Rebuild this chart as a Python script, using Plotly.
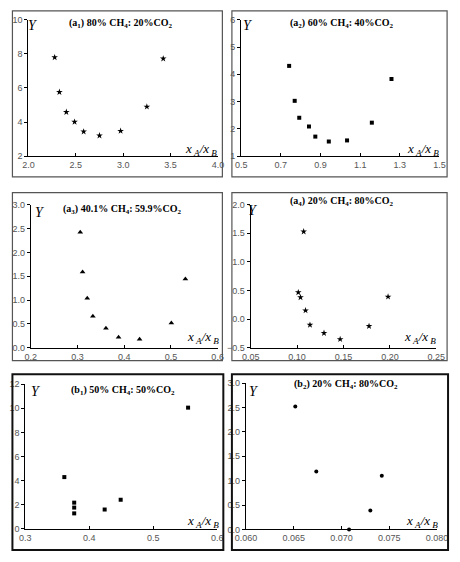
import plotly.graph_objects as go

W, H = 460, 562

# ---- data ----
a1_x = [2.277, 2.327, 2.40, 2.487, 2.583, 2.75, 2.973, 3.25, 3.423]
a1_y = [7.79, 5.76, 4.59, 4.01, 3.44, 3.21, 3.48, 4.90, 7.72]
a2_x = [0.742, 0.770, 0.793, 0.842, 0.874, 0.942, 1.034, 1.159, 1.258]
a2_y = [4.31, 3.03, 2.41, 2.09, 1.72, 1.54, 1.58, 2.23, 3.83]
a3_x = [0.306, 0.311, 0.321, 0.333, 0.361, 0.388, 0.433, 0.501, 0.531]
a3_y = [2.42, 1.59, 1.04, 0.66, 0.41, 0.22, 0.18, 0.52, 1.44]
a4_x = [0.1013, 0.1037, 0.1071, 0.1091, 0.1139, 0.129, 0.1464, 0.1775, 0.198]
a4_y = [0.467, 0.38, 1.53, 0.152, -0.10, -0.243, -0.351, -0.122, 0.392]
b1_x = [0.361, 0.3764, 0.3764, 0.3764, 0.424, 0.449, 0.5543]
b1_y = [4.29, 2.17, 1.76, 1.28, 1.60, 2.41, 10.05]
b2_x = [0.06517, 0.06737, 0.0708, 0.07303, 0.07423]
b2_y = [2.52, 1.19, 0.0, 0.39, 1.10]

titles = ["(a<sub>1</sub>) 80% CH<sub>4</sub>: 20%CO<sub>2</sub>",
          "(a<sub>2</sub>) 60% CH<sub>4</sub>: 40%CO<sub>2</sub>",
          "(a<sub>3</sub>) 40.1% CH<sub>4</sub>: 59.9%CO<sub>2</sub>",
          "(a<sub>4</sub>) 20% CH<sub>4</sub>: 80%CO<sub>2</sub>",
          "(b<sub>1</sub>) 50% CH<sub>4</sub>: 50%CO<sub>2</sub>",
          "(b<sub>2</sub>) 20% CH<sub>4</sub>: 80%CO<sub>2</sub>"]

# panel pixel geometry: plot box (x0,x1,ytop,ybot), frame (l,t,r,b)
panels = [
    dict(x=a1_x, y=a1_y, sym="star", size=5, xr=[2.0, 4.0], xd=0.5, xf=".1f",
         yr=[2, 10], yd=2, yf="d", box=(18.3, 217.3, 15, 154), frame=(1.5, 6, 222, 175),
         title=(115, 19), ylab=(23, 21), xlab=(200, 147), fw=1.2, fc="#555"),
    dict(x=a2_x, y=a2_y, sym="square", size=4, xr=[0.5, 1.5], xd=0.2, xf=".1f",
         yr=[1, 6], yd=1, yf="d", box=(241.7, 450, 15, 154), frame=(232, 6, 458, 175),
         title=(348, 19), ylab=(249, 21), xlab=(433, 147), fw=1.2, fc="#555"),
    dict(x=a3_x, y=a3_y, sym="triangle-up", size=5, xr=[0.2, 0.6], xd=0.1, xf=".1f",
         yr=[0, 3], yd=0.5, yf=".1f", box=(20.7, 217, 203.3, 349), frame=(1.5, 191, 222, 362),
         title=(117, 208), ylab=(30, 211), xlab=(202, 339), fw=1.2, fc="#555"),
    dict(x=a4_x, y=a4_y, sym="star", size=5, xr=[0.05, 0.25], xd=0.05, xf=".2f",
         yr=[-0.5, 2.0], yd=0.5, yf=".1f", box=(251.7, 446.7, 203.3, 349), frame=(232, 191, 458, 362),
         title=(348, 200), ylab=(254, 209), xlab=(430, 339), fw=1.2, fc="#555"),
    dict(x=b1_x, y=b1_y, sym="square", size=4, xr=[0.3, 0.6], xd=0.1, xf=".1f",
         yr=[0, 12], yd=2, yf="d", box=(15, 216.7, 386, 533.3), frame=(1.5, 376, 223, 555),
         title=(118, 392), ylab=(26, 394), xlab=(202, 526), fw=2, fc="#111"),
    dict(x=b2_x, y=b2_y, sym="circle", size=4, xr=[0.060, 0.080], xd=0.005, xf=".3f",
         yr=[0, 3.0], yd=0.5, yf=".1f", box=(246.7, 447.3, 385, 534), frame=(232, 376, 459, 555),
         title=(352, 386), ylab=(255, 394), xlab=(432, 526), fw=2, fc="#111"),
]

def px(v):
    return v / W

def py(v):
    return 1 - v / H

fig = go.Figure()
shapes = []
annotations = []
tickfont = dict(family="Liberation Sans, Arial", size=9, color="#555")

for i, p in enumerate(panels):
    n = "" if i == 0 else str(i + 1)
    fig.add_trace(go.Scatter(
        x=p["x"], y=p["y"], mode="markers",
        marker=dict(symbol=p["sym"], size=p["size"], color="black"),
        xaxis="x" + n, yaxis="y" + n, showlegend=False, cliponaxis=False))
    x0, x1, yt, yb = p["box"]
    fig.layout["xaxis" + n] = dict(
        domain=[px(x0), px(x1)], range=p["xr"], anchor="y" + n,
        showline=True, linecolor="black", linewidth=1, showgrid=False, zeroline=False,
        ticks="inside", ticklen=3, tickcolor="black", dtick=p["xd"], tick0=p["xr"][0],
        tickformat=p["xf"], tickfont=tickfont)
    fig.layout["yaxis" + n] = dict(
        domain=[py(yb), py(yt)], range=p["yr"], anchor="x" + n,
        showline=True, linecolor="black", linewidth=1, showgrid=False, zeroline=False,
        ticks="outside", ticklen=3, tickcolor="black", dtick=p["yd"], tick0=p["yr"][0],
        tickformat=p["yf"], tickfont=tickfont)
    l, t, r, b = p["frame"]
    shapes.append(dict(type="rect", xref="paper", yref="paper",
                       x0=px(l), x1=px(r), y0=py(b), y1=py(t),
                       line=dict(color=p["fc"], width=p["fw"])))
    tx, ty = p["title"]
    annotations.append(dict(text="<b>" + titles[i] + "</b>", x=px(tx), y=py(ty),
                            xref="paper", yref="paper", showarrow=False,
                            xanchor="center", yanchor="middle",
                            font=dict(family="Liberation Serif, Times New Roman", size=10, color="black")))
    lx, ly = p["ylab"]
    annotations.append(dict(text="<i>Y</i>", x=px(lx), y=py(ly), xref="paper", yref="paper",
                            showarrow=False, xanchor="center", yanchor="middle",
                            font=dict(family="Liberation Serif, Times New Roman", size=14, color="black")))
    xx, xy = p["xlab"]
    annotations.append(dict(text="<i>x</i><sub> <i>A</i></sub><i>/x</i><sub> <i>B</i></sub>",
                            x=px(xx), y=py(xy), xref="paper", yref="paper",
                            showarrow=False, xanchor="center", yanchor="middle",
                            font=dict(family="Liberation Serif, Times New Roman", size=13, color="black")))

fig.update_layout(width=W, height=H, autosize=False,
                  margin=dict(l=0, r=0, t=0, b=0),
                  paper_bgcolor="white", plot_bgcolor="white",
                  shapes=shapes, annotations=annotations)

fig.write_html("out.html", config={"displayModeBar": False})
